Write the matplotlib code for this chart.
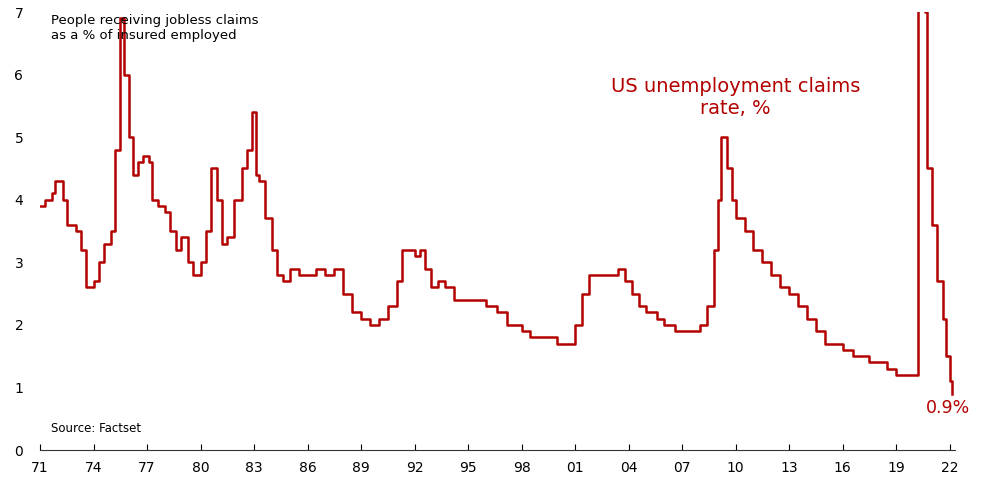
import matplotlib
matplotlib.use("Agg")
import matplotlib.pyplot as plt

plt.rcParams['font.family'] = ['DejaVu Sans Condensed', 'Liberation Sans Narrow', 'DejaVu Sans']

years = [1971.0,1971.3,1971.7,1971.85,1972.3,1972.5,1973.0,1973.3,1973.6,1974.0,1974.3,1974.6,1975.0,1975.2,1975.5,1975.7,1976.0,1976.2,1976.5,1976.8,1977.1,1977.3,1977.6,1978.0,1978.3,1978.6,1978.9,1979.3,1979.6,1980.0,1980.3,1980.6,1980.9,1981.2,1981.5,1981.9,1982.3,1982.6,1982.86,1983.1,1983.3,1983.6,1984.0,1984.3,1984.6,1985.0,1985.5,1986.0,1986.5,1987.0,1987.5,1988.0,1988.5,1989.0,1989.5,1990.0,1990.5,1991.0,1991.3,1991.7,1992.0,1992.3,1992.6,1992.9,1993.3,1993.7,1994.2,1995.0,1995.5,1996.0,1996.6,1997.2,1998.0,1998.5,1999.0,1999.5,2000.0,2000.5,2001.0,2001.4,2001.8,2002.2,2002.6,2003.0,2003.4,2003.8,2004.2,2004.6,2005.0,2005.6,2006.0,2006.6,2007.0,2007.5,2008.0,2008.4,2008.8,2009.0,2009.2,2009.5,2009.8,2010.0,2010.5,2011.0,2011.5,2012.0,2012.5,2013.0,2013.5,2014.0,2014.5,2015.0,2015.5,2016.0,2016.6,2017.0,2017.5,2018.0,2018.5,2019.0,2019.5,2020.0,2020.15,2020.2,2020.45,2020.6,2020.75,2021.0,2021.3,2021.6,2021.8,2022.0,2022.15]
rate = [3.9,4.0,4.1,4.3,4.0,3.6,3.5,3.2,2.6,2.7,3.0,3.3,3.5,4.8,6.9,6.0,5.0,4.4,4.6,4.7,4.6,4.0,3.9,3.8,3.5,3.2,3.4,3.0,2.8,3.0,3.5,4.5,4.0,3.3,3.4,4.0,4.5,4.8,5.4,4.4,4.3,3.7,3.2,2.8,2.7,2.9,2.8,2.8,2.9,2.8,2.9,2.5,2.2,2.1,2.0,2.1,2.3,2.7,3.2,3.2,3.1,3.2,2.9,2.6,2.7,2.6,2.4,2.4,2.4,2.3,2.2,2.0,1.9,1.8,1.8,1.8,1.7,1.7,2.0,2.5,2.8,2.8,2.8,2.8,2.9,2.7,2.5,2.3,2.2,2.1,2.0,1.9,1.9,1.9,2.0,2.3,3.2,4.0,5.0,4.5,4.0,3.7,3.5,3.2,3.0,2.8,2.6,2.5,2.3,2.1,1.9,1.7,1.7,1.6,1.5,1.5,1.4,1.4,1.3,1.2,1.2,1.2,1.2,7.5,17.0,7.0,4.5,3.6,2.7,2.1,1.5,1.1,0.9]

tick_pos = list(range(1971, 2023, 3))
tick_labels = ["71","74","77","80","83","86","89","92","95","98","01","04","07","10","13","16","19","22"]

red = "#b30000"
fig = plt.figure(figsize=(9.84, 4.79), dpi=100)
ax = fig.add_axes([40/984, 29/479, 915/984, 438/479])
ax.plot(years, rate, color=red, lw=1.8, drawstyle="steps-post")
ax.set_xlim(1971, 2022.3)
ax.set_ylim(0, 7)
ax.set_yticks(range(0, 8))
ax.set_xticks(tick_pos)
ax.set_xticklabels(tick_labels)
for s in ["top", "right", "left"]:
    ax.spines[s].set_visible(False)
ax.spines["bottom"].set_color("#333333")
ax.tick_params(axis="y", length=0, labelsize=10, pad=12)
ax.tick_params(axis="x", length=4, labelsize=10, direction="in", pad=8)
ax.text(0.012, 0.995, "People receiving jobless claims\nas a % of insured employed", transform=ax.transAxes,
        va="top", ha="left", fontsize=9.5)
ax.text(0.012, 0.035, "Source: Factset", transform=ax.transAxes, va="bottom", ha="left", fontsize=8.5)
ax.text(2010.0, 5.3, "US unemployment claims\nrate, %", color=red, fontsize=14, ha="center", va="bottom")
ax.text(2021.9, 0.67, "0.9%", color=red, fontsize=12.5, ha="center", va="center")
fig.savefig("out.png", dpi=100)
